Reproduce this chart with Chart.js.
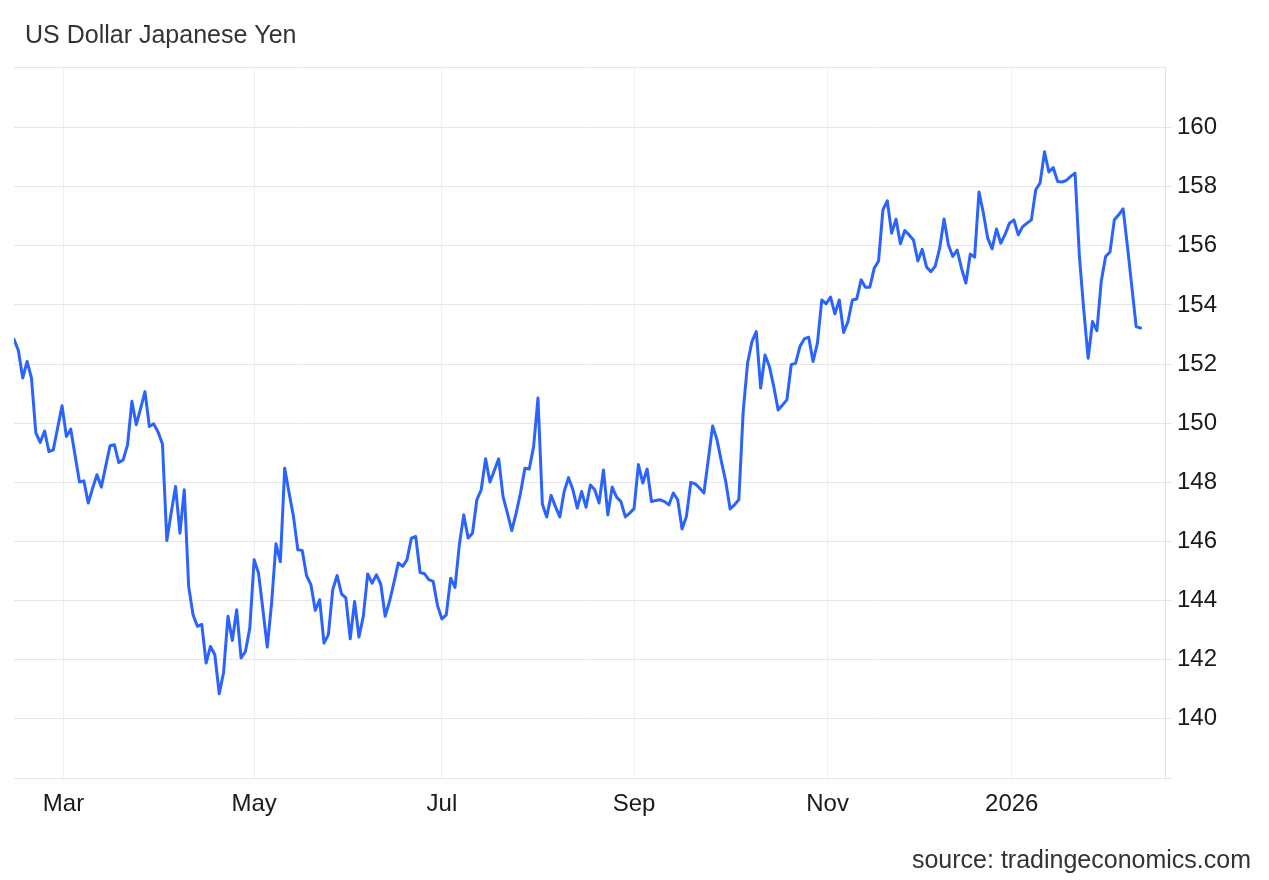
<!DOCTYPE html>
<html>
<head>
<meta charset="utf-8">
<script src="https://cdn.jsdelivr.net/npm/chart.js@4.4.1/dist/chart.umd.min.js"></script>
<style>
  html, body { margin: 0; padding: 0; background: #ffffff; }
  #wrap { width: 1269px; height: 880px; position: relative; }
</style>
</head>
<body>
<div id="wrap"><canvas id="c" width="1269" height="880"></canvas></div>
<script>
// ---- Data (USD/JPY daily closes) ----
const firstDate = '2025-02-13';                     // first trading day shown
const holidays = ['2025-12-25', '2026-01-01'];      // weekdays without a quote
const values = [
  152.84,152.46,151.53,152.09,151.53,149.67,149.35,149.74,149.04,149.10,
  149.85,150.59,149.55,149.80,148.90,148.01,148.05,147.30,147.80,148.26,
  147.84,148.55,149.24,149.27,148.67,148.76,149.27,150.74,149.95,150.50,
  151.07,149.89,149.98,149.70,149.30,146.03,146.97,147.86,146.28,147.75,
  144.48,143.52,143.13,143.20,141.89,142.45,142.17,140.85,141.57,143.47,
  142.65,143.69,142.06,142.28,143.07,145.38,144.93,143.70,142.43,143.92,
  145.92,145.32,148.48,147.64,146.85,145.72,145.70,144.84,144.54,143.67,
  144.03,142.56,142.85,144.37,144.85,144.23,144.09,142.71,143.97,142.77,
  143.47,144.90,144.59,144.87,144.56,143.47,143.97,144.60,145.27,145.16,
  145.38,146.11,146.17,144.95,144.91,144.71,144.65,143.83,143.38,143.52,
  144.76,144.45,145.90,146.90,146.12,146.28,147.41,147.75,148.80,148.01,
  148.40,148.80,147.52,146.96,146.37,146.96,147.64,148.48,148.45,149.21,
  150.85,147.27,146.83,147.56,147.18,146.83,147.69,148.16,147.75,147.13,
  147.69,147.16,147.91,147.75,147.30,148.42,146.90,147.84,147.50,147.35,
  146.83,146.96,147.11,148.60,147.98,148.45,147.35,147.39,147.41,147.35,
  147.24,147.64,147.41,146.42,146.85,148.00,147.95,147.81,147.64,148.76,
  149.91,149.44,148.71,148.03,147.10,147.24,147.41,150.40,152.03,152.76,
  153.10,151.19,152.31,151.92,151.24,150.45,150.62,150.79,151.98,152.03,
  152.60,152.85,152.91,152.09,152.71,154.17,154.04,154.27,153.70,154.17,
  153.07,153.44,154.17,154.20,154.85,154.60,154.60,155.24,155.49,157.22,
  157.52,156.43,156.90,156.07,156.52,156.37,156.20,155.49,155.88,155.28,
  155.13,155.32,155.92,156.91,156.03,155.64,155.86,155.24,154.74,155.72,
  155.62,157.82,157.11,156.26,155.90,156.57,156.09,156.40,156.77,156.88,
  156.37,156.65,156.77,156.88,157.90,158.13,159.18,158.50,158.65,158.18,
  158.16,158.21,158.35,158.46,155.64,153.83,152.20,153.44,153.13,154.80,
  155.64,155.79,156.88,157.05,157.25,155.98,154.62,153.27,153.22
];
const tickDates  = ['2025-03-01', '2025-05-01', '2025-07-01', '2025-09-01', '2025-11-01', '2026-01-01'];
const tickLabels = ['Mar', 'May', 'Jul', 'Sep', 'Nov', '2026'];
const yTickValues = [140,142,144,146,148,150,152,154,156,158,160];
const yMin = 138, yMax = 162.05;
const titleText = 'US Dollar Japanese Yen';
const sourceText = 'source: tradingeconomics.com';

// trading-day dates (weekdays minus holidays) for each value
const DAY = 86400000;
const dates = [];
{
  let t = Date.parse(firstDate + 'T00:00:00Z');
  while (dates.length < values.length) {
    const d = new Date(t);
    const wd = d.getUTCDay();
    const iso = d.toISOString().slice(0, 10);
    if (wd !== 0 && wd !== 6 && !holidays.includes(iso)) dates.push(t);
    t += DAY;
  }
}
// ordinal position of a calendar date (interpolated between neighbouring points)
function ordinalPos(iso) {
  const t = Date.parse(iso + 'T00:00:00Z');
  for (let i = 0; i < dates.length - 1; i++) {
    if (t >= dates[i] && t <= dates[i + 1]) return i + (t - dates[i]) / (dates[i + 1] - dates[i]);
  }
  return null;
}
const monthTicks = tickDates.map((d, k) => ({ value: ordinalPos(d), label: tickLabels[k] }));

const points = values.map((v, i) => ({ x: i, y: v }));
const FONT = '"Liberation Sans", Arial, Helvetica, sans-serif';

const textPlugin = {
  id: 'texts',
  afterDraw(chart) {
    const ctx = chart.ctx;
    ctx.save();
    ctx.font = '25px ' + FONT;
    ctx.fillStyle = '#333333';
    ctx.textBaseline = 'alphabetic';
    ctx.textAlign = 'left';
    ctx.fillText(titleText, 25, 43);
    ctx.textAlign = 'right';
    ctx.fillText(sourceText, 1251, 868);
    ctx.restore();
  }
};

new Chart(document.getElementById('c'), {
  type: 'line',
  data: {
    datasets: [{
      data: points,
      borderColor: '#2b63ff',
      borderWidth: 3,
      pointRadius: 0,
      pointHoverRadius: 0,
      tension: 0,
      fill: false,
      borderJoinStyle: 'round',
      borderCapStyle: 'round'
    }]
  },
  options: {
    responsive: false,
    animation: false,
    events: [],
    layout: { padding: { top: 67, left: 14, right: 44, bottom: 62 } },
    plugins: { legend: { display: false }, tooltip: { enabled: false }, title: { display: false } },
    scales: {
      x: {
        type: 'linear',
        min: 0,
        max: values.length - 1 + 5.6,
        border: { display: false },
        grid: { color: '#edf1f6', lineWidth: 1, drawTicks: false },
        afterBuildTicks(scale) { scale.ticks = monthTicks.map(t => ({ value: t.value })); },
        afterFit(scale) { scale.height = 40; },
        ticks: {
          autoSkip: false,
          maxRotation: 0,
          padding: 12,
          color: '#1a1a1a',
          font: { family: FONT, size: 24 },
          callback(v) { const t = monthTicks.find(m => Math.abs(m.value - v) < 1e-6); return t ? t.label : ''; }
        }
      },
      y: {
        position: 'right',
        min: yMin,
        max: yMax,
        border: { display: true, color: '#e3e3e3', width: 1 },
        grid: {
          color: '#e6e6e6',
          lineWidth: 1,
          tickLength: 7,
          tickColor: (c) => (c.tick && c.tick.value === yMax) ? 'rgba(0,0,0,0)' : '#e6e6e6'
        },
        afterBuildTicks(scale) {
          const arr = [yMin, ...yTickValues, yMax];
          scale.ticks = arr.map(v => ({ value: v }));
        },
        afterFit(scale) { scale.width = 60; },
        ticks: {
          padding: 5,
          color: '#1a1a1a',
          font: { family: FONT, size: 24 },
          callback(v) { return yTickValues.includes(v) ? String(v) : ''; }
        }
      }
    }
  },
  plugins: [textPlugin]
});
</script>
</body>
</html>
